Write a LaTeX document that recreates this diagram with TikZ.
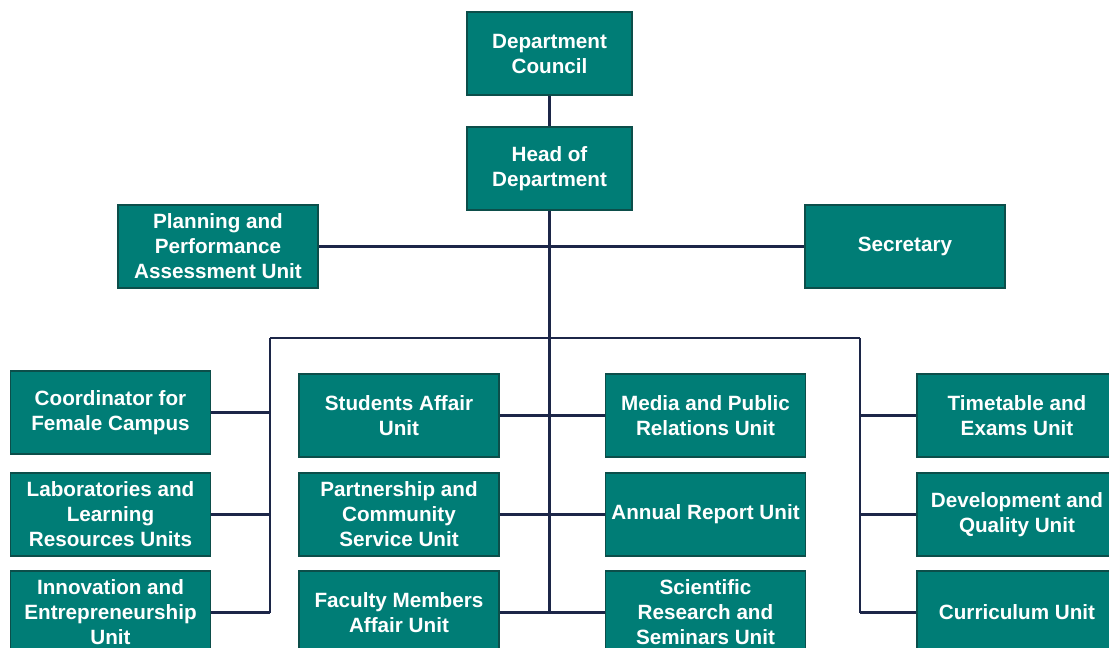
\documentclass[tikz,border=0pt]{standalone}
\usepackage{fontspec}
\setmainfont{Liberation Sans}
\definecolor{unitfill}{RGB}{0,125,118}
\definecolor{unitedge}{RGB}{12,78,74}
\definecolor{linkline}{RGB}{28,38,72}
\begin{document}
\begin{tikzpicture}[x=0.75pt,y=-0.75pt,
  unit/.style={draw=unitedge,line width=1.2pt,fill=unitfill,text=white,
    font=\bfseries\fontsize{15.5}{18.75}\selectfont,align=center,
    minimum width=150pt,minimum height=62pt,inner sep=1pt},
  topunit/.style={unit,minimum width=124pt},
  link/.style={draw=linkline,line width=2.2pt}]
\useasboundingbox (0,0) rectangle (1109,647);
\clip (0,0) rectangle (1109,647);
\coordinate (busL) at (270,338);
\coordinate (busR) at (860,338);
\coordinate (botL) at (270,612.5);
\coordinate (botM) at (549.5,612.5);
\coordinate (botR) at (860,612.5);
\node[topunit] (dc) at (549.5,53.5) {Department\\Council};
\node[topunit] (hod) at (549.5,168.5) {Head of\\Department};
\node[unit] (plan) at (218,246.5) {Planning and\\Performance\\Assessment Unit};
\node[unit] (sec) at (905,246.5) {Secretary};
\node[unit] (coord) at (110.5,412.5) {Coordinator for\\Female Campus};
\node[unit] (labs) at (110.5,514.5) {Laboratories and\\Learning\\Resources Units};
\node[unit] (innov) at (110.5,612.5) {Innovation and\\Entrepreneurship\\Unit};
\node[unit] (stud) at (399,415.5) {Students Affair\\Unit};
\node[unit] (partner) at (399,514.5) {Partnership and\\Community\\Service Unit};
\node[unit] (faculty) at (399,612.5) {Faculty Members\\Affair Unit};
\node[unit] (media) at (705.5,415.5) {Media and Public\\Relations Unit};
\node[unit] (annual) at (705.5,514.5) {Annual Report Unit};
\node[unit] (research) at (705.5,612.5) {Scientific\\Research and\\Seminars Unit};
\node[unit] (timetable) at (1017,415.5) {Timetable and\\Exams Unit};
\node[unit] (quality) at (1017,514.5) {Development and\\Quality Unit};
\node[unit] (curric) at (1017,612.5) {Curriculum Unit};
% links
\draw[link] (dc) -- (hod);
\draw[link] (hod) -- (botM);
\draw[link] (plan) -- (sec);
\draw[link] (busL) -- (busR);
\draw[link] (busL) -- (botL);
\draw[link] (busR) -- (botR);
\draw[link] (coord) -- (coord -| busL);
\draw[link] (labs) -- (labs -| busL);
\draw[link] (innov) -- (botL);
\draw[link] (stud) -- (media);
\draw[link] (partner) -- (annual);
\draw[link] (faculty) -- (research);
\draw[link] (timetable) -- (timetable -| busR);
\draw[link] (quality) -- (quality -| busR);
\draw[link] (curric) -- (botR);
\end{tikzpicture}
\end{document}
